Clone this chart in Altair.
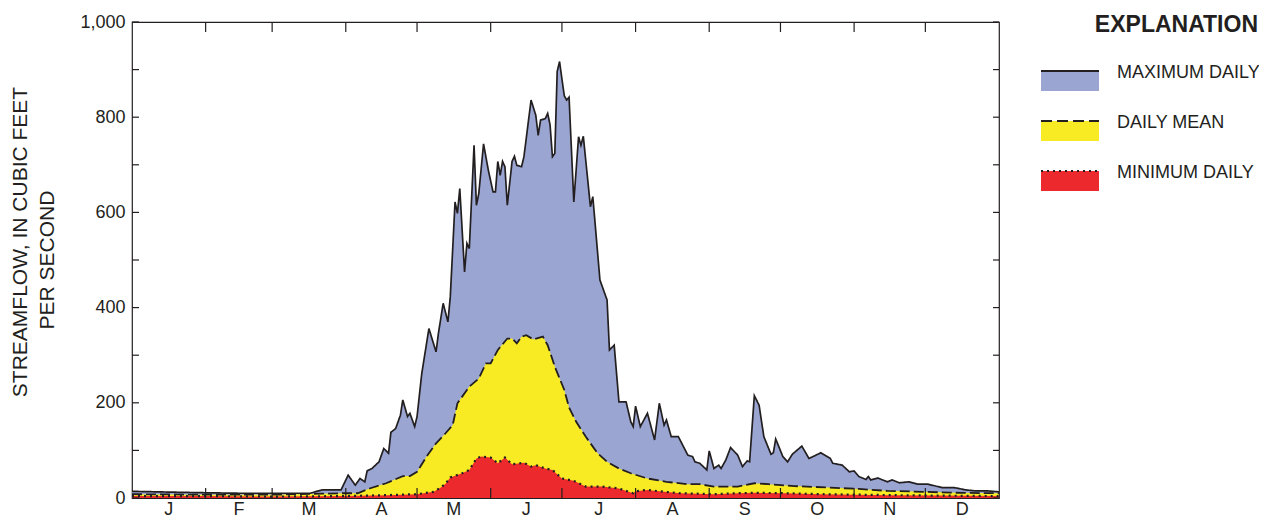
import altair as alt
import pandas as pd

# ---------------- data ----------------
MONTHS = ["J", "F", "M", "A", "M", "J", "J", "A", "S", "O", "N", "D"]
MONTH_LEN = [31, 28, 31, 30, 31, 30, 31, 31, 30, 31, 30, 31]

MAX_DAYS = [0, 10, 20, 31, 45, 58, 75, 80, 88, 91, 94, 96, 98, 99, 101, 104, 106, 108, 109, 111,
            113, 114, 116, 117, 119, 120, 122, 125, 128, 129, 131, 133, 134, 136, 137, 138, 140,
            141, 142, 144, 145, 146, 148, 150, 152, 153, 154, 155, 156, 157, 158, 160, 161, 162,
            164, 165, 168, 170, 171, 172, 174, 175, 176, 177, 178, 179, 180, 181, 182, 183, 184,
            186, 188, 189, 190, 193, 194, 197, 200, 201, 203, 205, 208, 210, 211, 212, 214, 217,
            220, 222, 224, 225, 227, 230, 234, 236, 237, 239, 242, 243, 245, 247, 248, 250, 252,
            255, 257, 259, 260, 262, 264, 266, 269, 270, 271, 274, 276, 278, 282, 285, 290, 294,
            295, 299, 302, 304, 306, 309, 310, 311, 314, 318, 320, 323, 327, 331, 335, 341, 346,
            351, 355, 360, 365]
MAX_CFS = [14, 13, 12, 11, 10, 10, 10, 17, 17, 48, 27, 41, 34, 57, 62, 76, 104, 94, 138, 146,
           174, 206, 171, 178, 150, 171, 262, 356, 307, 346, 409, 370, 423, 622, 598, 650, 475,
           535, 524, 741, 615, 640, 744, 689, 643, 643, 707, 678, 707, 696, 615, 707, 718, 699,
           696, 717, 836, 804, 762, 794, 797, 808, 784, 717, 724, 896, 917, 880, 845, 836, 842,
           622, 759, 741, 760, 612, 633, 458, 416, 311, 321, 202, 202, 160, 150, 193, 150, 178,
           122, 199, 153, 164, 129, 129, 90, 87, 76, 73, 59, 99, 62, 69, 62, 80, 106,
           90, 66, 78, 76, 215, 195, 129, 92, 95, 124, 87, 76, 92, 109, 83, 95, 83,
           73, 69, 55, 57, 45, 39, 45, 38, 42, 34, 38, 32, 34, 29, 29, 22, 22,
           17, 15, 15, 13]

MEAN_DAYS = [0, 31, 59, 80, 89, 95, 100, 107, 114, 117, 120, 124, 128, 132, 135, 137, 142, 146,
             149, 151, 154, 158, 160, 162, 164, 166, 169, 173, 175, 178, 182, 184, 187, 191, 196,
             200, 205, 210, 217, 225, 234, 239, 245, 255, 262, 268, 279, 293, 306, 318, 333, 347,
             365]
MEAN_CFS = [8, 7, 7, 9, 10, 10, 20, 31, 46, 46, 55, 87, 115, 136, 153, 199, 234, 251,
            283, 283, 311, 335, 335, 325, 339, 342, 333, 339, 321, 276, 227, 190, 160, 129, 94,
            76, 62, 52, 41, 34, 29, 29, 24, 24, 31, 29, 25, 22, 19, 15, 13, 11,
            10]

MIN_DAYS = [0, 31, 59, 90, 107, 120, 127, 130, 132, 134, 139, 142, 145, 147, 151, 154, 157, 160,
            165, 168, 170, 174, 177, 181, 186, 191, 198, 205, 211, 212, 217, 224, 231, 245, 255,
            262, 275, 290, 305, 320, 340, 365]
MIN_CFS = [4, 4, 3, 4, 6, 8, 13, 22, 30, 43, 52, 59, 83, 87, 85, 73, 85, 71,
           74, 66, 69, 62, 59, 41, 36, 24, 24, 20, 10, 14, 17, 13, 10, 8, 10,
           11, 10, 8, 7, 6, 5, 4]

Y_TICK_VALUES = [0, 100, 200, 300, 400, 500, 600, 700, 800, 900, 1000]
Y_LABEL_VALUES = [0, 200, 400, 600, 800, 1000]
Y_TITLE_LINES = ["STREAMFLOW, IN CUBIC FEET", "PER SECOND"]

LEGEND_TITLE = "EXPLANATION"
LEGEND_LABELS = ["MAXIMUM DAILY", "DAILY MEAN", "MINIMUM DAILY"]
FILLS = ["#9AA5D2", "#F8EB24", "#EC2A2E"]
DASHES = [[1, 0], [10, 4], [2, 4]]
LEGEND_DASHES = [[1, 0], [11, 5], [2, 4]]
LINE_WIDTHS = [1.7, 1.8, 2.2]

INK = "#231F20"
FONT = "Liberation Sans"

# ---------------- derived tables ----------------
bounds = []
acc = 0
for n in MONTH_LEN:
    acc += n
    bounds.append(acc)
month_starts = [0] + bounds[:-1]
mids = [s + n / 2 for s, n in zip(month_starts, MONTH_LEN)]

series = [
    pd.DataFrame({"day": MAX_DAYS, "cfs": MAX_CFS}),
    pd.DataFrame({"day": MEAN_DAYS, "cfs": MEAN_CFS}),
    pd.DataFrame({"day": MIN_DAYS, "cfs": MIN_CFS}),
]
bound_df = pd.DataFrame({"day": bounds[:-1]})
month_df = pd.DataFrame({"day": mids, "label": MONTHS})
ytick_df = pd.DataFrame({"cfs": Y_TICK_VALUES})

W, H = 867, 476

xs = alt.Scale(domain=[0, 365], nice=False, zero=False)
ys = alt.Scale(domain=[0, 1000], nice=False)

X = alt.X("day:Q", scale=xs, axis=None)
Y = alt.Y(
    "cfs:Q",
    scale=ys,
    axis=alt.Axis(
        values=Y_LABEL_VALUES,
        format=",.0f",
        ticks=False,
        tickSize=0,
        domain=False,
        grid=False,
        labelFont=FONT,
        labelFontSize=18,
        labelColor=INK,
        labelPadding=7,
        title=None,
    ),
)

layers = []
# filled areas
for df, fill in zip(series, FILLS):
    layers.append(alt.Chart(df).mark_area(color=fill, opacity=1, interpolate="linear").encode(x=X, y=Y))
# boundary lines
for df, dash, lw in zip(series, DASHES, LINE_WIDTHS):
    layers.append(
        alt.Chart(df).mark_line(color=INK, strokeWidth=lw, strokeDash=dash, interpolate="linear").encode(x=X, y=Y)
    )

# month tick marks (inside the frame, top and bottom)
layers.append(alt.Chart(bound_df).mark_rule(color=INK, strokeWidth=1.2).encode(x=X, y=alt.value(0), y2=alt.value(10)))
layers.append(alt.Chart(bound_df).mark_rule(color=INK, strokeWidth=1.2).encode(x=X, y=alt.value(H), y2=alt.value(H - 10)))
# value tick marks (inside the frame, left and right)
layers.append(alt.Chart(ytick_df).mark_rule(color=INK, strokeWidth=1.2).encode(y=Y, x=alt.value(0), x2=alt.value(7)))
layers.append(alt.Chart(ytick_df).mark_rule(color=INK, strokeWidth=1.2).encode(y=Y, x=alt.value(W - 6), x2=alt.value(W)))
# month letters
layers.append(
    alt.Chart(month_df)
    .mark_text(font=FONT, fontSize=18, color=INK, baseline="alphabetic", align="center")
    .encode(x=X, y=alt.value(H + 17), text="label:N")
)

# y-axis title, two rotated lines
for txt, xpos, ypos in zip(Y_TITLE_LINES, [-111.5, -84.5], [220, 238]):
    layers.append(
        alt.Chart(pd.DataFrame({"t": [txt]}))
        .mark_text(font=FONT, fontSize=21, color=INK, angle=270, align="center", baseline="middle")
        .encode(x=alt.value(xpos), y=alt.value(ypos), text="t:N")
    )

# explanation (legend)
layers.append(
    alt.Chart(pd.DataFrame({"t": [LEGEND_TITLE]}))
    .mark_text(font=FONT, fontSize=23, fontWeight="bold", color=INK, align="right", baseline="alphabetic")
    .encode(x=alt.value(1126), y=alt.value(9.5), text="t:N")
)
for i, (lab, fill, dash) in enumerate(zip(LEGEND_LABELS, FILLS, LEGEND_DASHES)):
    d = pd.DataFrame({"label": [lab]})
    top = 49 + 50 * i
    layers.append(
        alt.Chart(d).mark_rect(color=fill, opacity=1).encode(
            x=alt.value(909), x2=alt.value(967), y=alt.value(top), y2=alt.value(top + 20)
        )
    )
    layers.append(
        alt.Chart(d).mark_rule(color=INK, strokeWidth=1.8, strokeDash=dash).encode(
            x=alt.value(909), x2=alt.value(967), y=alt.value(top)
        )
    )
    layers.append(
        alt.Chart(d).mark_text(font=FONT, fontSize=18, color=INK, align="left", baseline="alphabetic").encode(
            x=alt.value(985), y=alt.value(top + 7), text="label:N"
        )
    )

chart = (
    alt.layer(*layers)
    .properties(
        width=W,
        height=H,
        padding={"left": 124, "top": 14, "right": 260, "bottom": 20},
        autosize=alt.AutoSizeParams(type="none"),
        background="white",
    )
    .configure_view(stroke=INK, strokeWidth=1.2)
)

chart.save("out.html", embed_options={"renderer": "svg", "actions": False})
